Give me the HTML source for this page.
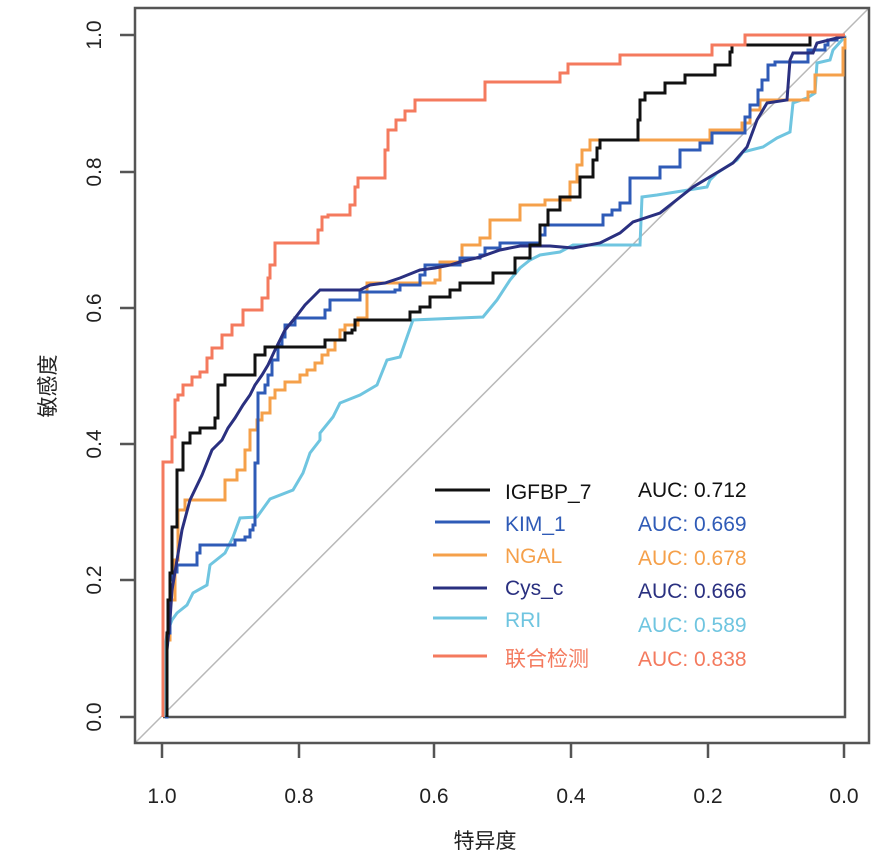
<!DOCTYPE html>
<html><head><meta charset="utf-8"><style>body{margin:0;background:#fff}svg{display:block}</style></head><body>
<svg width="888" height="861" xmlns="http://www.w3.org/2000/svg" font-family="Liberation Sans, Noto Sans CJK SC, sans-serif">
<rect width="888" height="861" fill="#fff"/>
<line x1="135" y1="743" x2="869" y2="8" stroke="#b8b8b8" stroke-width="1.5"/>
<rect x="135" y="8" width="734" height="735" fill="none" stroke="#555" stroke-width="2.5"/>
<path d="M163 717H845V36" fill="none" stroke="#555" stroke-width="2.5"/>
<g stroke="#555" stroke-width="2.5">
<line x1="120" y1="35" x2="135" y2="35"/><line x1="120" y1="172" x2="135" y2="172"/><line x1="120" y1="308" x2="135" y2="308"/><line x1="120" y1="444" x2="135" y2="444"/><line x1="120" y1="580" x2="135" y2="580"/><line x1="120" y1="717" x2="135" y2="717"/>
<line x1="162" y1="743" x2="162" y2="758"/><line x1="299" y1="743" x2="299" y2="758"/><line x1="434" y1="743" x2="434" y2="758"/><line x1="571" y1="743" x2="571" y2="758"/><line x1="708" y1="743" x2="708" y2="758"/><line x1="844" y1="743" x2="844" y2="758"/>
</g>
<g font-size="21" fill="#222" text-anchor="middle">
<text x="162" y="803">1.0</text><text x="299" y="803">0.8</text><text x="434" y="803">0.6</text><text x="571" y="803">0.4</text><text x="708" y="803">0.2</text><text x="844" y="803">0.0</text>
<text transform="translate(101,35) rotate(-90)">1.0</text><text transform="translate(101,172) rotate(-90)">0.8</text><text transform="translate(101,308) rotate(-90)">0.6</text><text transform="translate(101,444) rotate(-90)">0.4</text><text transform="translate(101,580) rotate(-90)">0.2</text><text transform="translate(101,717) rotate(-90)">0.0</text>
<text x="485" y="848">特异度</text>
<text transform="translate(55,386) rotate(-90)">敏感度</text>
</g>
<g fill="none" stroke-width="3" stroke-linejoin="miter">
<polyline stroke="#6fc5e0" points="165,717 165,650 167,633 172,620 177,613 187,605 193,593 207,585 210,565 225,553 233,537 240,518 257,517 270,499 293,490 303,473 310,453 320,440 320,433 333,417 340,403 360,395 377,385 387,360 400,357 413,320 483,317 497,300 510,280 520,268 530,260 540,255 560,252 573,245 640,245 642,197 657,195 707,187 710,180 717,173 737,160 743,152 763,147 777,138 790,132 793,103 807,98 815,93 817,63 830,60 833,50 842,40 845,35"/>
<path stroke="#f5a04a" d="M165 717H167V640H170V600H175V560H178V510H185V500H225V480H237V470H245V450H250V430H257V420H262V413H270V398H275V390H285V382H300V375H307V370H315V363H322V355H328V350H335V340H340V330H345V325H358V318H367V283H435V280H440V262H460V262H462V245H480V238H490V220H520V205H545V200H570V182H577V165H582V150H590V140H710V130H742V123H750V110H760V100H808V92H815V75H843V48H845V38"/>
<path stroke="#2f5bb7" d="M165 717H167V633H170V580H172V572H177V565H197V553H200V545H235V540H245V537H250V530H253V525H255V463H258V393H265V385H268V375H272V360H278V345H282V337H285V325H295V318H325V310H330V300H335V300H360V292H395V290H400V285H420V275H425V265H460V258H480V255H485V248H500V243H540V235H545V225H603V215H612V210H620V203H630V178H660V167H680V150H700V143H712V133H745V117H750V105H758V90H762V80H768V65H775V62H808V50H825V45H828V40H837V36H845"/>
<polyline stroke="#2a3080" points="167,717 167,650 170,620 172,590 182,530 190,500 202,475 212,450 222,440 228,428 235,418 243,405 250,395 255,385 262,375 268,365 275,350 285,330 295,318 305,305 312,298 320,290 360,290 370,285 385,283 400,278 420,270 435,268 450,265 460,262 480,257 500,250 520,246 550,246 573,248 600,243 620,233 633,222 660,213 693,187 733,163 747,147 757,120 767,103 787,100 790,60 793,53 813,53 817,43 837,38 845,36"/>
<path stroke="#111" d="M167 717V633H168V600H170V573H172V527H177V470H183V443H190V433H200V428H215V418H218V385H225V375H255V355H265V347H325V340H345V333H352V330H355V320H410V312H420V307H430V297H450V290H460V283H493V273H515V258H530V245H540V225H548V210H560V197H580V177H593V160H597V148H600V140H638V120H640V100H645V93H665V83H685V75H715V65H730V52H732V45H810V35H845"/>
<path stroke="#f47a5e" d="M163 717V462H172V437H175V400H178V395H183V385H192V377H200V372H207V358H212V348H222V335H232V325H243V310H262V298H268V278H270V265H275V243H318V230H322V217H328V215H350V205H355V187H358V178H362V178H385V150H388V130H396V120H405V111H415V100H485V82H560V73H568V64H620V55H712V45H745V35H845"/>
</g>
<g stroke-width="3">
<line x1="435" y1="490" x2="490" y2="490" stroke="#111"/>
<line x1="435" y1="522" x2="490" y2="522" stroke="#2f5bb7"/>
<line x1="433" y1="555" x2="487" y2="555" stroke="#f5a04a"/>
<line x1="433" y1="588" x2="487" y2="588" stroke="#2a3080"/>
<line x1="433" y1="618" x2="487" y2="618" stroke="#6fc5e0"/>
<line x1="433" y1="656" x2="487" y2="656" stroke="#f47a5e"/>
</g>
<g font-size="21">
<text x="505" y="499" fill="#111">IGFBP_7</text><text x="638" y="497" fill="#111">AUC: 0.712</text>
<text x="505" y="531" fill="#2f5bb7">KIM_1</text><text x="638" y="531" fill="#2f5bb7">AUC: 0.669</text>
<text x="505" y="563" fill="#f5a04a">NGAL</text><text x="638" y="565" fill="#f5a04a">AUC: 0.678</text>
<text x="505" y="595" fill="#2a3080">Cys_c</text><text x="638" y="598" fill="#2a3080">AUC: 0.666</text>
<text x="505" y="627" fill="#6fc5e0">RRI</text><text x="638" y="632" fill="#6fc5e0">AUC: 0.589</text>
<text x="505" y="666" fill="#f47a5e">联合检测</text><text x="638" y="666" fill="#f47a5e">AUC: 0.838</text>
</g>
</svg>
</body></html>
